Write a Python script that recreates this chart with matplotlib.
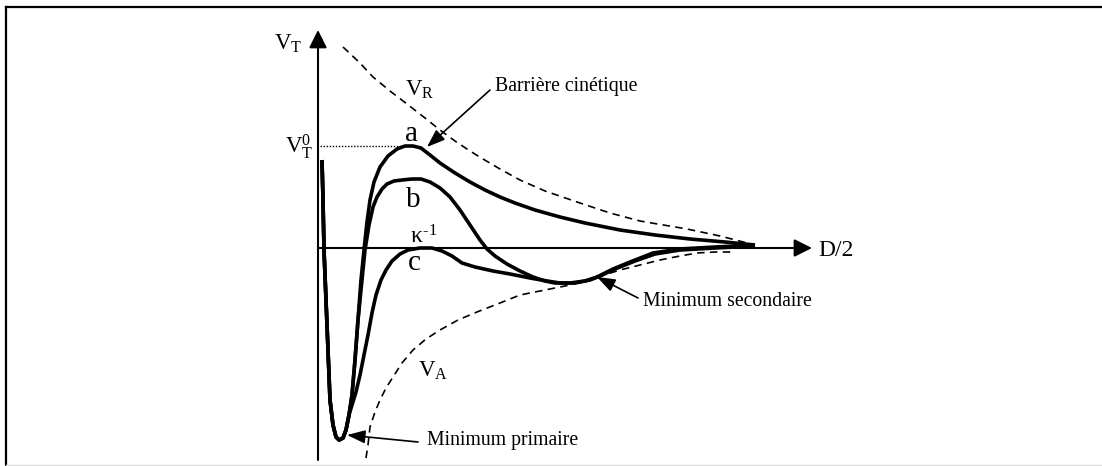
import matplotlib
matplotlib.use("Agg")
import matplotlib.pyplot as plt
from matplotlib.lines import Line2D
from matplotlib.patches import ArrowStyle

plt.rcParams["font.family"] = ["Liberation Serif", "DejaVu Serif"]
plt.rcParams["mathtext.fontset"] = "custom"
plt.rcParams["mathtext.rm"] = "Liberation Serif"
plt.rcParams["mathtext.it"] = "Liberation Serif"
plt.rcParams["mathtext.bf"] = "Liberation Serif:bold"

# Interaction energy profiles (arbitrary units): x = half distance D/2, y = energy
# Total potential, case a (high kinetic barrier)
x_a = [4, 5, 6, 8, 10, 12, 15, 18, 21, 25, 28, 31, 34, 37, 40, 43, 46, 49, 52, 56,
       62, 70, 79, 87, 95, 103, 112, 122, 137, 152, 167, 182, 197, 217, 242, 267,
       302, 337, 372, 407, 437]
y_a = [88, 48, -2, -52, -102, -152, -177, -189, -192, -190, -182, -167, -147, -112,
       -72, -32, -2, 26, 48, 66, 81, 92, 99, 102, 102, 100, 93, 85, 75, 66, 58, 51,
       45, 38, 31, 25, 18, 13, 9, 6, 3]

# Total potential, case b (lower barrier)
x_b = [4, 5, 6, 8, 10, 12, 15, 18, 21, 25, 28, 31, 34, 37, 40, 44, 47, 51, 55, 59,
       64, 69, 76, 84, 94, 103, 112, 122, 132, 142, 152, 162, 169, 177, 189, 202,
       215, 227, 237, 252, 267, 279, 295, 312, 335, 362, 397, 437]
y_b = [88, 48, -2, -52, -102, -152, -177, -189, -192, -190, -182, -167, -147, -112,
       -72, -32, -2, 23, 41, 51, 59, 64, 67, 68, 69, 69, 66, 60, 51, 38, 23, 8, -1,
       -8, -16, -23, -29, -33, -35, -35, -33, -29, -21, -14, -5, -1, 1, 3]

# Total potential, case c (barrier at zero level)
x_c = [4, 5, 6, 8, 10, 12, 15, 18, 21, 25, 28, 31, 34, 38, 42, 46, 50, 54, 58, 63,
       68, 74, 82, 90, 102, 114, 124, 134, 144, 157, 175, 192, 212, 229, 242, 257,
       272, 282, 297, 317, 337, 362, 397, 437]
y_c = [88, 48, -2, -52, -102, -152, -177, -189, -192, -190, -182, -167, -157, -144,
       -127, -107, -87, -65, -47, -32, -22, -13, -6, -2, 0, 0, -3, -8, -15, -19, -23,
       -26, -30, -33, -35, -35, -32, -28, -21, -13, -6, -2, 0, 2]

# Repulsive contribution V_R
x_r = [25, 42, 55, 72, 89, 107, 122, 137, 152, 165, 182, 202, 227, 262, 292, 322,
       369, 402, 437]
y_r = [201, 185, 171, 157, 144, 130, 118, 107, 97, 89, 79, 68, 57, 45, 35, 27, 19,
       12, 3]

# Attractive contribution V_A
x_att = [48, 50, 52, 57, 62, 68, 75, 84, 95, 108, 122, 140, 159, 182, 202, 227, 252,
         277, 302, 322, 342, 362, 379, 397, 417]
y_att = [-210, -197, -179, -164, -152, -140, -129, -115, -102, -91, -82, -72, -64,
         -55, -47, -42, -37, -30, -22, -17, -12, -8, -5, -4, -4]

# Axis extents
x_axis_end = 494
y_axis_min, y_axis_max = -212, 218

fig = plt.figure(figsize=(11.02, 4.66), dpi=100)
ax = fig.add_axes([0, 0, 1, 1])
ax.set_xlim(-318, 784)
ax.set_ylim(-218, 248)
ax.axis("off")

# Frame around the figure (open on the right)
fig.add_artist(Line2D([6 / 1102, 6 / 1102], [1 - 7 / 466, 1 - 465 / 466],
                      transform=fig.transFigure, color="black", lw=1.6))
fig.add_artist(Line2D([6 / 1102, 1.0], [1 - 7 / 466, 1 - 7 / 466],
                      transform=fig.transFigure, color="black", lw=1.6))
fig.add_artist(Line2D([6 / 1102, 1.0], [1 - 465 / 466, 1 - 465 / 466],
                      transform=fig.transFigure, color="#dddddd", lw=1.0))

big_head = ArrowStyle("-|>", head_length=0.4, head_width=0.2)
small_head = ArrowStyle("-|>", head_length=0.55, head_width=0.2)

# Axes with arrowheads
ax.annotate("", xy=(0, y_axis_max), xytext=(0, y_axis_min),
            arrowprops=dict(arrowstyle=big_head, mutation_scale=27, lw=1.5,
                            color="black", shrinkA=0, shrinkB=0))
ax.annotate("", xy=(x_axis_end, 0), xytext=(0, 0),
            arrowprops=dict(arrowstyle=big_head, mutation_scale=27, lw=1.5,
                            color="black", shrinkA=0, shrinkB=0))

# Potential curves
curve_kw = dict(color="black", lw=2.6, solid_joinstyle="round", solid_capstyle="butt")
ax.plot(x_a, y_a, **curve_kw)
ax.plot(x_b, y_b, **curve_kw)
ax.plot(x_c, y_c, **curve_kw)

dash_kw = dict(color="black", lw=1.2, linestyle=(0, (4.5, 3.2)))
ax.plot(x_r, y_r, **dash_kw)
ax.plot(x_att, y_att, **dash_kw)

# Barrier height marker
vt0 = max(y_a)
ax.plot([2, x_a[y_a.index(vt0)] - 2], [vt0, vt0], color="black", lw=1.0,
        linestyle=(0, (1, 1.2)))

# Labels
ax.text(-30, 204, r"$\mathrm{V_T}$", fontsize=16.5, ha="center", va="center")
ax.text(-19, 101, r"$\mathrm{V_T^0}$", fontsize=16.5, ha="center", va="center")
ax.text(102, 158, r"$\mathrm{V_R}$", fontsize=16.5, ha="center", va="center")
ax.text(115, -123, r"$\mathrm{V_A}$", fontsize=16.5, ha="center", va="center")
ax.text(93, 114, "a", fontsize=21, ha="center", va="center")
ax.text(95, 48, "b", fontsize=21, ha="center", va="center")
ax.text(96, -15, "c", fontsize=21, ha="center", va="center")
ax.text(106, 11, r"$\kappa^{\text{-1}}$", fontsize=17, ha="center", va="center")
ax.text(500, -2, "D/2", fontsize=17, ha="left", va="center")

# Annotated features
ann_arrow = dict(arrowstyle=small_head, mutation_scale=20, lw=1.2, color="black",
                 shrinkA=0, shrinkB=0)
ax.annotate("", xy=(109, 101), xytext=(172, 158), arrowprops=ann_arrow)
ax.text(177, 162, "Barrière cinétique", fontsize=14.2, ha="left", va="center")

ax.annotate("", xy=(279, -29), xytext=(320, -50), arrowprops=ann_arrow)
ax.text(325, -54, "Minimum secondaire", fontsize=14.2, ha="left", va="center")

ax.annotate("", xy=(29, -187), xytext=(100, -194), arrowprops=ann_arrow)
ax.text(109, -193, "Minimum primaire", fontsize=14.2, ha="left", va="center")

fig.savefig("out.png", dpi=100, facecolor="white")
